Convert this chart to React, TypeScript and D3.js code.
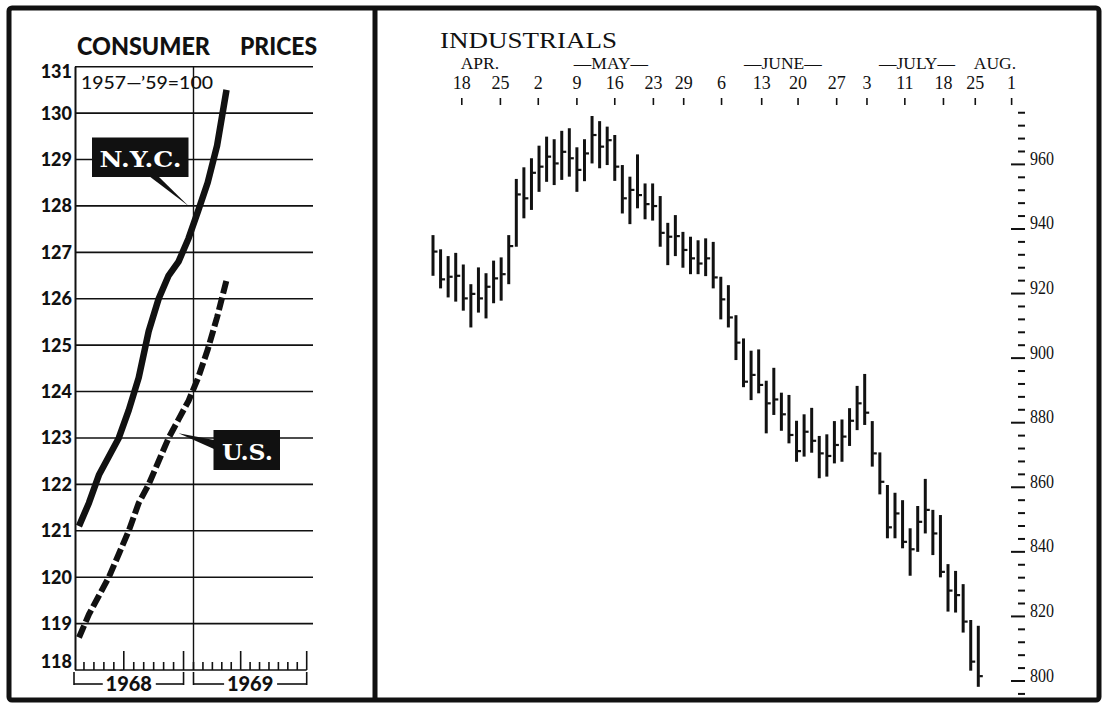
import React, { useEffect, useRef } from "react";
import * as d3 from "d3";

// ---- left panel: consumer price index, 1957-'59 = 100 ----
const cpiTicks = [118, 119, 120, 121, 122, 123, 124, 125, 126, 127, 128, 129, 130, 131];
// monthly values, Jan 1968 .. Apr 1969
const nycCPI = [121.1, 121.6, 122.2, 122.6, 123.0, 123.6, 124.3, 125.3, 126.0, 126.5, 126.8, 127.3, 127.9, 128.5, 129.3, 130.5];
const usCPI = [118.7, 119.2, 119.6, 120.0, 120.5, 121.0, 121.6, 122.0, 122.5, 123.0, 123.4, 123.8, 124.3, 124.9, 125.6, 126.4];
const years = ["1968", "1969"];
const yearSpans = [[0, 11], [12, 24]];
const tallMonthTicks = [5, 11, 17, 24];

// ---- right panel: Dow Jones industrials, daily high / low / close ----
const dowHigh = [
  938.1, 933.7, 931.6, 932.6, 929.0, 922.9, 928.1, 926.3, 930.2, 931.2,
  938.1, 955.5, 959.1, 961.9, 965.8, 968.6, 967.8, 970.4, 971.2, 965.3,
  967.8, 975.0, 973.4, 971.7, 969.1, 959.8, 956.2, 963.1, 954.1, 954.1,
  950.2, 941.9, 944.3, 939.1, 937.6, 936.5, 937.1, 936.0, 925.2, 922.6,
  913.3, 906.1, 902.3, 902.7, 893.0, 897.0, 889.3, 888.6, 880.6, 882.6,
  884.6, 875.9, 876.4, 880.5, 881.0, 884.5, 891.4, 895.1, 880.5, 870.8,
  860.7, 858.3, 856.0, 847.3, 854.2, 862.6, 853.0, 851.4, 836.2, 834.1,
  830.0, 818.9, 817.1,
];
const dowLow = [
  925.5, 921.6, 918.8, 917.5, 914.7, 909.5, 914.1, 912.3, 917.0, 917.8,
  922.9, 934.5, 943.3, 945.9, 951.5, 954.6, 953.6, 955.2, 956.2, 951.5,
  954.8, 960.3, 958.8, 959.8, 954.9, 944.8, 941.5, 946.4, 943.0, 942.6,
  934.5, 928.8, 931.6, 928.0, 926.0, 926.0, 925.4, 921.6, 912.0, 909.5,
  899.4, 891.0, 887.0, 889.1, 876.7, 882.4, 877.5, 873.6, 867.9, 869.5,
  870.7, 862.8, 863.3, 867.4, 867.9, 872.8, 877.7, 879.3, 866.4, 857.8,
  844.2, 844.2, 841.1, 832.6, 840.0, 845.7, 839.0, 832.1, 821.5, 821.2,
  815.0, 803.2, 798.2,
];
const dowClose = [
  933.0, 924.4, 925.2, 925.5, 918.5, 919.9, 918.5, 922.1, 924.7, 926.0,
  934.7, 950.7, 949.5, 957.4, 959.3, 962.4, 960.3, 963.9, 961.9, 958.3,
  963.4, 969.1, 965.5, 967.5, 959.3, 949.5, 952.1, 950.5, 947.7, 947.1,
  938.8, 937.6, 937.8, 933.5, 930.9, 929.3, 930.9, 925.0, 918.2, 912.6,
  904.8, 892.7, 894.8, 891.7, 886.0, 887.2, 882.6, 876.2, 871.2, 877.2,
  874.4, 870.5, 869.7, 873.1, 875.7, 880.6, 886.0, 883.1, 870.5, 861.7,
  847.6, 851.9, 843.1, 840.8, 849.3, 853.0, 845.7, 833.8, 828.0, 826.6,
  818.4, 806.0, 801.5,
];
const dowLabels = [800, 820, 840, 860, 880, 900, 920, 940, 960];
const dayLabels = ["18", "25", "2", "9", "16", "23", "29", "6", "13", "20", "27", "3", "11", "18", "25", "1"];
// position of each week tick, in trading-day units
const dayTickAt = [3.8, 8.9, 13.9, 19.0, 24.0, 29.1, 33.1, 38.1, 43.4, 48.2, 53.3, 57.3, 62.3, 67.4, 71.6, 76.4];
const monthLabels = ["APR.", "\u2014MAY\u2014", "\u2014JUNE\u2014", "\u2014JULY\u2014", "AUG."];
const monthAt = [6.2, 23.5, 46.2, 63.9, 74.2];

const ink = "#111";
const bold = "Lato, 'Open Sans', sans-serif";
const serif = "'Liberation Serif', 'DejaVu Serif', serif";

function App() {
  const svgRef = useRef(null);

  useEffect(() => {
    const svg = d3.select(svgRef.current);
    svg.selectAll("*").remove();

    // frame
    svg
      .append("rect")
      .attr("x", 9)
      .attr("y", 8)
      .attr("width", 1090)
      .attr("height", 692)
      .attr("rx", 3)
      .attr("fill", "none")
      .attr("stroke", ink)
      .attr("stroke-width", 5);
    svg
      .append("line")
      .attr("x1", 375)
      .attr("x2", 375)
      .attr("y1", 8)
      .attr("y2", 700)
      .attr("stroke", ink)
      .attr("stroke-width", 5);

    // ================= LEFT PANEL =================
    const xL = d3.scaleLinear().domain([0, 12, 24]).range([74, 193.5, 306.7]);
    const yL = d3.scaleLinear().domain([118, 131]).range([670, 66.7]);
    const left = svg.append("g");

    left
      .selectAll(".grid")
      .data(cpiTicks)
      .enter()
      .append("line")
      .attr("x1", 75)
      .attr("x2", (d) => (d === 118 ? xL(24) : 313))
      .attr("y1", (d) => yL(d))
      .attr("y2", (d) => yL(d))
      .attr("stroke", ink)
      .attr("stroke-width", 1.6);

    // vertical axis and year divider
    [0, 12].forEach((k) => {
      left
        .append("line")
        .attr("x1", k === 0 ? 75.5 : xL(k))
        .attr("x2", k === 0 ? 75.5 : xL(k))
        .attr("y1", yL(131))
        .attr("y2", yL(118))
        .attr("stroke", ink)
        .attr("stroke-width", k === 0 ? 2 : 1.4);
    });

    // month ticks
    left
      .selectAll(".mtick")
      .data(d3.range(1, 25))
      .enter()
      .append("line")
      .attr("x1", (d) => xL(d))
      .attr("x2", (d) => xL(d))
      .attr("y1", yL(118))
      .attr("y2", (d) => yL(118) - (tallMonthTicks.includes(d) ? 19 : 8))
      .attr("stroke", ink)
      .attr("stroke-width", 1.6);

    // y labels
    left
      .selectAll(".ylab")
      .data(cpiTicks)
      .enter()
      .append("text")
      .attr("x", 72)
      .attr("y", (d) => (d === 131 ? yL(d) + 11.5 : d === 118 ? yL(d) - 2 : yL(d) + 6.5))
      .attr("text-anchor", "end")
      .style("font-family", bold)
      .style("font-weight", 900)
      .style("font-size", "18px")
      .attr("fill", ink)
      .text((d) => d);

    // year brackets
    years.forEach((yr, i) => {
      const x0 = xL(yearSpans[i][0]);
      const x1 = xL(yearSpans[i][1]);
      const cx = (x0 + x1) / 2;
      const g = left.append("g").attr("stroke", ink).attr("stroke-width", 1.6);
      g.append("line").attr("x1", x0).attr("x2", x0).attr("y1", 672).attr("y2", 685);
      g.append("line").attr("x1", x1).attr("x2", x1).attr("y1", 672).attr("y2", 685);
      g.append("line").attr("x1", x0).attr("x2", cx - 26).attr("y1", 684).attr("y2", 684);
      g.append("line").attr("x1", cx + 27).attr("x2", x1).attr("y1", 684).attr("y2", 684);
      left
        .append("text")
        .attr("x", cx)
        .attr("y", 690.5)
        .attr("text-anchor", "middle")
        .style("font-family", bold)
        .style("font-weight", 900)
        .style("font-size", "20px")
        .attr("fill", ink)
        .text(yr);
    });

    // title and base note
    left
      .append("text")
      .attr("x", 77)
      .attr("y", 55)
      .attr("textLength", 133)
      .attr("lengthAdjust", "spacingAndGlyphs")
      .style("font-family", bold)
      .style("font-weight", 900)
      .style("font-size", "25px")
      .attr("fill", ink)
      .text("CONSUMER");
    left
      .append("text")
      .attr("x", 240)
      .attr("y", 55)
      .attr("textLength", 77)
      .attr("lengthAdjust", "spacingAndGlyphs")
      .style("font-family", bold)
      .style("font-weight", 900)
      .style("font-size", "25px")
      .attr("fill", ink)
      .text("PRICES");
    left
      .append("text")
      .attr("x", 81)
      .attr("y", 89)
      .attr("textLength", 132)
      .attr("lengthAdjust", "spacingAndGlyphs")
      .style("font-family", bold)
      .style("font-weight", 500)
      .style("font-size", "17px")
      .attr("fill", ink)
      .text("1957\u2014\u201959=100");

    // lines
    const cpiLine = d3
      .line()
      .x((d, i) => xL(i + 0.5))
      .y((d) => yL(d));

    left
      .append("path")
      .attr("d", cpiLine(nycCPI))
      .attr("fill", "none")
      .attr("stroke", ink)
      .attr("stroke-width", 6.5)
      .attr("stroke-linejoin", "round");

    left
      .append("path")
      .attr("d", cpiLine(usCPI))
      .attr("fill", "none")
      .attr("stroke", ink)
      .attr("stroke-width", 6)
      .attr("stroke-dasharray", "13,4");

    // callouts
    const nycTip = [xL(11.5), yL(128)];
    left
      .append("polygon")
      .attr("points", `149,176 158,176 ${nycTip[0]},${nycTip[1]}`)
      .attr("fill", ink);
    left
      .append("rect")
      .attr("x", 92)
      .attr("y", 137.5)
      .attr("width", 96.5)
      .attr("height", 39.5)
      .attr("fill", ink);
    left
      .append("text")
      .attr("x", 140.5)
      .attr("y", 166.5)
      .attr("text-anchor", "middle")
      .attr("textLength", 82)
      .attr("lengthAdjust", "spacingAndGlyphs")
      .style("font-family", "'DejaVu Serif', serif")
      .style("font-weight", 700)
      .style("font-size", "23px")
      .attr("fill", "#fff")
      .text("N.Y.C.");

    const usTip = [xL(10.5), yL(123.1)];
    left
      .append("polygon")
      .attr("points", `214,440 214,449 ${usTip[0]},${usTip[1]}`)
      .attr("fill", ink);
    left
      .append("rect")
      .attr("x", 213.5)
      .attr("y", 430)
      .attr("width", 66.5)
      .attr("height", 40)
      .attr("fill", ink);
    left
      .append("text")
      .attr("x", 247.5)
      .attr("y", 459.5)
      .attr("text-anchor", "middle")
      .attr("textLength", 51)
      .attr("lengthAdjust", "spacingAndGlyphs")
      .style("font-family", "'DejaVu Serif', serif")
      .style("font-weight", 700)
      .style("font-size", "23px")
      .attr("fill", "#fff")
      .text("U.S.");

    // ================= RIGHT PANEL =================
    const xR = d3.scaleLinear().domain([0, 72]).range([433, 978.3]);
    const yR = d3.scaleLinear().domain([800, 960]).range([681, 164.4]);
    const right = svg.append("g");

    right
      .append("text")
      .attr("x", 440)
      .attr("y", 47.5)
      .attr("textLength", 177)
      .attr("lengthAdjust", "spacingAndGlyphs")
      .style("font-family", serif)
      .style("font-size", "23px")
      .attr("fill", ink)
      .text("INDUSTRIALS");

    right
      .selectAll(".month")
      .data(monthLabels)
      .enter()
      .append("text")
      .attr("x", (d, i) => xR(monthAt[i]))
      .attr("y", 68.5)
      .attr("text-anchor", "middle")
      .style("font-family", serif)
      .style("font-size", "17.5px")
      .attr("fill", ink)
      .text((d) => d);

    right
      .selectAll(".day")
      .data(dayLabels)
      .enter()
      .append("text")
      .attr("x", (d, i) => xR(dayTickAt[i]))
      .attr("y", 88.5)
      .attr("text-anchor", "middle")
      .style("font-family", serif)
      .style("font-size", "18px")
      .attr("fill", ink)
      .text((d) => d);

    right
      .selectAll(".dtick")
      .data(dayTickAt)
      .enter()
      .append("line")
      .attr("x1", (d) => xR(d))
      .attr("x2", (d) => xR(d))
      .attr("y1", 98)
      .attr("y2", 105)
      .attr("stroke", ink)
      .attr("stroke-width", 1.6);

    // right value axis
    right
      .selectAll(".vtick")
      .data(d3.range(796, 977, 4))
      .enter()
      .append("line")
      .attr("x1", (d) => (d % 20 === 0 ? 1011 : 1018))
      .attr("x2", 1025)
      .attr("y1", (d) => yR(d))
      .attr("y2", (d) => yR(d))
      .attr("stroke", ink)
      .attr("stroke-width", 2);

    right
      .selectAll(".vlab")
      .data(dowLabels)
      .enter()
      .append("text")
      .attr("x", 1030)
      .attr("y", (d) => yR(d) + 0.5)
      .attr("textLength", 24)
      .attr("lengthAdjust", "spacingAndGlyphs")
      .style("font-family", serif)
      .style("font-size", "18px")
      .attr("fill", ink)
      .text((d) => d);

    // daily bars
    const bars = right
      .selectAll(".bar")
      .data(dowHigh)
      .enter()
      .append("g")
      .attr("class", "bar");

    bars
      .append("line")
      .attr("x1", (d, i) => xR(i))
      .attr("x2", (d, i) => xR(i))
      .attr("y1", (d) => yR(d))
      .attr("y2", (d, i) => yR(dowLow[i]))
      .attr("stroke", ink)
      .attr("stroke-width", 3);

    bars
      .append("line")
      .attr("x1", (d, i) => xR(i) + 1)
      .attr("x2", (d, i) => xR(i) + 4.5)
      .attr("y1", (d, i) => yR(dowClose[i]))
      .attr("y2", (d, i) => yR(dowClose[i]))
      .attr("stroke", ink)
      .attr("stroke-width", 2.2);
  }, []);

  return (
    <svg
      ref={svgRef}
      width={1113}
      height={707}
      style={{ position: "absolute", left: 0, top: 0, background: "#fff" }}
    ></svg>
  );
}

export default App;
